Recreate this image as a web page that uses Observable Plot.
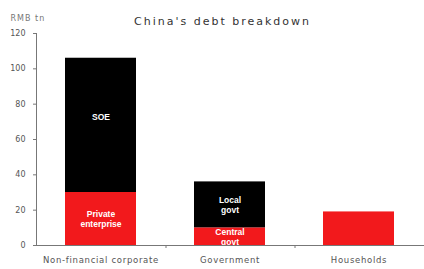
<!DOCTYPE html>
<html><head><meta charset="utf-8">
<script src="https://cdn.jsdelivr.net/npm/d3@7"></script>
<script src="https://cdn.jsdelivr.net/npm/@observablehq/plot@0.6"></script>
<style>body{margin:0;background:#fff;font-family:"DejaVu Sans",sans-serif}</style>
</head><body><div id="chart"></div>
<script>
const categories = ["Non-financial corporate", "Government", "Households"];
const lowerValues = [30, 10, 19];
const lowerLabels = ["Private\nenterprise", "Central\ngovt", ""];
const upperValues = [76, 26, 0];
const upperLabels = ["SOE", "Local\ngovt", ""];
const yTicks = [0, 20, 40, 60, 80, 100, 120];
const title = "China's debt breakdown";
const unit = "RMB tn";

const rows = [];
categories.forEach((c, i) => {
  rows.push({cat: c, part: "lower", value: lowerValues[i], label: lowerLabels[i]});
  rows.push({cat: c, part: "upper", value: upperValues[i], label: upperLabels[i]});
});
const stackOpts = {x: "cat", y: "value", z: "part", order: ["lower", "upper"]};
const labelStyle = {fill: "white", fontWeight: "bold", fontSize: 8.5, lineHeight: 1.2, fontFamily: "Liberation Sans, Arial, sans-serif"};

const chart = Plot.plot({
  width: 424, height: 269,
  marginLeft: 36, marginRight: 0, marginTop: 33, marginBottom: 24,
  style: {fontFamily: "DejaVu Sans, sans-serif", background: "#fff"},
  x: {domain: categories, paddingInner: 0.446, paddingOuter: 0.223, label: null},
  y: {domain: [0, 120], ticks: yTicks, label: null},
  color: {domain: ["lower", "upper"], range: ["#f2191c", "#000000"]},
  marks: [
    Plot.barY(rows, Plot.stackY({...stackOpts, fill: "part"})),
    Plot.text(rows, Plot.stackY({...stackOpts, text: (d) => d.label === "SOE" ? "" : d.label, ...labelStyle})),
    Plot.text(rows, Plot.stackY({...stackOpts, text: (d) => d.label === "SOE" ? d.label : "", dy: -9, ...labelStyle})),
    Plot.axisY({ticks: yTicks, tickSize: 3, tickPadding: 8, fontSize: 8, color: "#555", stroke: "#777"}),
    Plot.axisX({tickSize: 0, tickPadding: 11, fontSize: 8.5, color: "#555"}),
    Plot.ruleX(categories.slice(0, 2), {x: (d) => d, dx: 65, y1: 0, y2: 0, insetBottom: -3, stroke: "#777"}),
    Plot.ruleY([0], {stroke: "#777"}),
    Plot.frame({anchor: "left", stroke: "#777"}),
    Plot.text([title], {frameAnchor: "top", dy: -16, dx: -8, fontSize: 11, fill: "#333"}),
    Plot.text([unit], {frameAnchor: "top-left", dx: -26, dy: -18, fontSize: 8, fill: "#777", textAnchor: "start"})
  ]
});
document.getElementById("chart").append(chart);
const spacing = new Map([[title, 2], [unit, 1]]);
categories.forEach((c) => spacing.set(c, 0.7));
chart.querySelectorAll("text").forEach((t) => {
  const v = spacing.get(t.textContent);
  if (v !== undefined) t.style.letterSpacing = v + "px";
});
</script></body></html>
